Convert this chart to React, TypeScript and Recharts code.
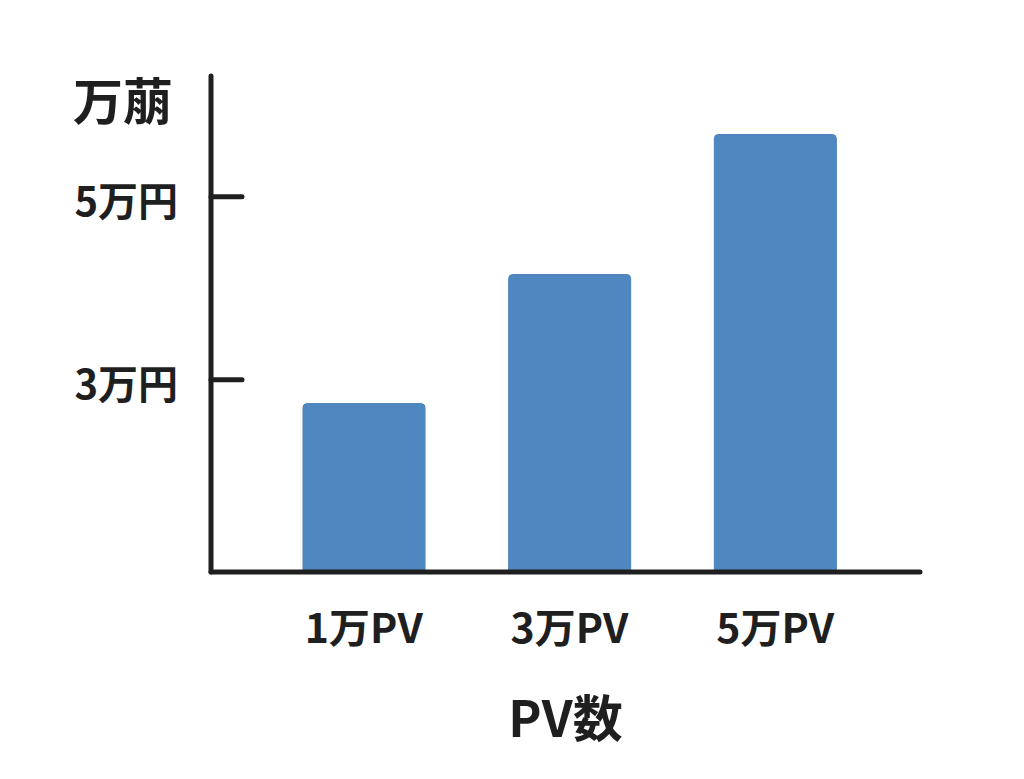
import React from "react";
import { BarChart, Bar, XAxis, YAxis } from "recharts";

const categories = ["1万PV", "3万PV", "5万PV"];
const revenue = [2.74, 4.15, 5.68];
const yTicks = [3, 5];
const yTickLabels: Record<number, string> = { 3: "3万円", 5: "5万円" };

const data = categories.map((c, i) => ({ name: c, value: revenue[i] }));

const INK = "#1f1f1f";
const FONT = "'Noto Sans CJK JP', 'Noto Sans', sans-serif";

const YTick = (props: any) => {
  const { x, y, payload } = props;
  return (
    <g>
      <line
        x1={x}
        x2={x + 31}
        y1={y}
        y2={y}
        stroke={INK}
        strokeWidth={5}
        strokeLinecap="round"
      />
      <text
        x={x - 33}
        y={y + 2}
        textAnchor="end"
        dominantBaseline="central"
        fontFamily={FONT}
        fontWeight={700}
        fontSize={40}
        fill={INK}
      >
        {yTickLabels[payload.value]}
      </text>
    </g>
  );
};

const XTick = (props: any) => {
  const { x, y, payload } = props;
  return (
    <text
      x={x}
      y={y + 53}
      textAnchor="middle"
      dominantBaseline="central"
      fontFamily={FONT}
      fontWeight={700}
      fontSize={41}
      fill={INK}
    >
      {payload.value}
    </text>
  );
};

const YTitle = (props: any) => {
  const { viewBox } = props;
  return (
    <text
      x={viewBox.x + 123}
      y={viewBox.y + 22}
      textAnchor="middle"
      dominantBaseline="central"
      fontFamily={FONT}
      fontWeight={700}
      fontSize={50}
      fill={INK}
    >
      万萠
    </text>
  );
};

const XTitle = (props: any) => {
  const { viewBox } = props;
  return (
    <text
      x={viewBox.x + viewBox.width / 2}
      y={viewBox.y + 143}
      textAnchor="middle"
      dominantBaseline="central"
      fontFamily={FONT}
      fontWeight={700}
      fontSize={50}
      fill={INK}
    >
      PV数
    </text>
  );
};

export default function App() {
  return (
    <div style={{ position: "absolute", left: 0, top: 0, background: "#fff" }}>
      <BarChart
        width={1024}
        height={779}
        data={data}
        margin={{ top: 76, right: 104, bottom: 0, left: 0 }}
      >
        <XAxis
          dataKey="name"
          height={207}
          padding={{ left: 50, right: 42 }}
          axisLine={{ stroke: INK, strokeWidth: 5, strokeLinecap: "round" }}
          tickLine={false}
          tickSize={0}
          tickMargin={0}
          tick={<XTick />}
          label={{ content: <XTitle /> }}
        />
        <YAxis
          width={211}
          domain={[0.9, 6.32]}
          ticks={yTicks}
          axisLine={{ stroke: INK, strokeWidth: 5, strokeLinecap: "round" }}
          tickLine={false}
          tickSize={0}
          tickMargin={0}
          tick={<YTick />}
          label={{ content: <YTitle /> }}
          allowDataOverflow
        />
        <Bar
          dataKey="value"
          barSize={122}
          fill="#4f87c0"
          stroke="#4a80b8"
          strokeWidth={1}
          radius={[4, 4, 0, 0]}
          isAnimationActive={false}
        />
      </BarChart>
    </div>
  );
}
